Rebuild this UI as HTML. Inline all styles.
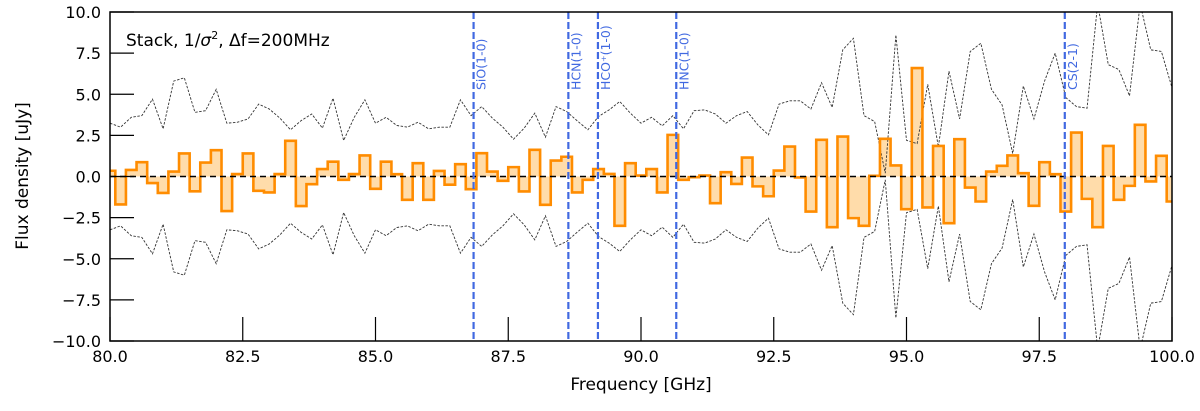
<!DOCTYPE html>
<html><head><meta charset="utf-8"><style>
body{margin:0;background:#fff;}
svg text{font-family:"DejaVu Sans","Liberation Sans",sans-serif;}
</style></head><body>
<svg id="chart" width="1200" height="406" viewBox="0 0 1200 406" xmlns="http://www.w3.org/2000/svg">
<defs><clipPath id="plotclip"><rect x="110" y="12" width="1062" height="329"/></clipPath></defs>
<g id="plot" clip-path="url(#plotclip)"></g>
<g id="axes"></g>
</svg>
<script>
const freqStart = 80.0, freqStep = 0.2;
const flux = [0.35,-1.7,0.4,0.87,-0.4,-1.0,0.3,1.4,-0.9,0.85,1.6,-2.1,0.15,1.4,-0.87,-0.97,0.15,2.17,-1.8,-0.47,0.45,0.9,-0.2,0.15,1.28,-0.75,
0.9,0.14,-1.42,0.81,-1.42,0.34,-0.5,0.75,-0.77,1.42,0.3,-0.26,0.57,-0.91,1.62,-1.72,0.97,1.2,-0.97,-0.2,0.45,0.16,-3.0,0.81,0.06,0.45,
-0.97,2.53,-0.2,-0.04,0.06,-1.62,0.26,-0.45,1.15,-0.6,-1.2,0.36,1.82,-0.06,-2.13,2.23,-3.08,2.43,-2.53,-3.0,0.04,2.29,0.67,-1.99,
6.59,-1.88,1.86,-2.84,2.27,-0.67,-1.52,0.3,0.65,1.28,0.2,-1.78,0.87,0.14,-2.13,2.67,-1.36,-3.08,1.86,-1.42,-0.57,3.14,-0.3,1.26,-1.52];
const sigma = [3.24,3.0,3.6,3.7,4.7,2.9,5.8,6.0,3.9,4.0,5.3,3.24,3.3,3.5,4.4,4.1,3.55,2.84,3.4,3.8,2.94,4.76,2.19,3.6,4.66,3.24,
3.6,3.1,3.0,3.3,2.9,3.0,3.0,4.66,3.7,4.25,3.55,3.0,2.27,2.94,3.85,2.39,4.25,3.95,3.38,2.84,3.65,4.05,4.56,3.85,3.24,3.6,
3.08,3.7,2.9,4.0,4.05,3.8,3.24,3.7,3.95,3.14,2.53,4.4,4.6,4.6,4.1,5.7,4.2,7.7,8.4,3.7,3.34,0.2,8.6,2.2,
2.0,5.6,1.8,6.4,3.5,7.6,8.1,5.3,4.35,1.4,5.5,3.5,5.8,7.5,4.8,4.25,4.15,10.5,6.8,6.5,4.9,10.5,7.7,7.6,5.4];
const lineNames = ["SiO(1-0)","HCN(1-0)","HCO\u207A(1-0)","HNC(1-0)","CS(2-1)"];
const lineFreqs = [86.847,88.632,89.189,90.664,97.981];
const xTicks = [80,82.5,85,87.5,90,92.5,95,97.5,100];
const xTickLabels = ["80.0","82.5","85.0","87.5","90.0","92.5","95.0","97.5","100.0"];
const yTicks = [-10,-7.5,-5,-2.5,0,2.5,5,7.5,10];
const yTickLabels = ["\u221210.0","\u22127.5","\u22125.0","\u22122.5","0.0","2.5","5.0","7.5","10.0"];

const X0=110,X1=1172,Y0=341,Y1=12;
const xs = f => X0 + (f-80)/20*(X1-X0);
const ys = v => Y0 - (v+10)/20*(Y0-Y1);
const NS="http://www.w3.org/2000/svg";
function mk(tag, attrs, parent){const e=document.createElementNS(NS,tag);for(const k in attrs)e.setAttribute(k,attrs[k]);parent.appendChild(e);return e;}
const plot=document.getElementById('plot'), axes=document.getElementById('axes');

let fillD="", stepD="";
flux.forEach((v,i)=>{
  const c=freqStart+i*freqStep;
  const a=xs(c-freqStep/2), b=xs(c+freqStep/2);
  fillD+=`M${a},${ys(0)}L${a},${ys(v)}L${b},${ys(v)}L${b},${ys(0)}Z`;
  stepD+=(i===0?`M${a},${ys(v)}`:`L${a},${ys(v)}`)+`L${b},${ys(v)}`;
});
const fill=mk('path',{d:fillD,fill:'#ffdcaa',stroke:'none'},plot);


let up="",lo="";
sigma.forEach((s,i)=>{const c=freqStart+i*freqStep;up+=(i?'L':'M')+xs(c)+','+ys(s);lo+=(i?'L':'M')+xs(c)+','+ys(-s);});
const u=mk('path',{d:up,fill:'none',stroke:'#333','stroke-width':0.9,'stroke-dasharray':'2.5,1.5'},plot);


const l=mk('path',{d:lo,fill:'none',stroke:'#333','stroke-width':0.9,'stroke-dasharray':'2.5,1.5'},plot);


const step=mk('path',{d:stepD,fill:'none',stroke:'#ff8c00','stroke-width':2.6,'stroke-linejoin':'miter'},plot);


const zl=mk('line',{x1:X0,x2:X1,y1:ys(0),y2:ys(0),stroke:'#000','stroke-width':1.5,'stroke-dasharray':'6,4'},plot);


lineFreqs.forEach((f,i)=>{
  const x=xs(f);
  const ln=mk('line',{x1:x,x2:x,y1:Y1,y2:Y0,stroke:'#4169e1','stroke-width':2.2,'stroke-dasharray':'7,3'},plot);
  
  
  const t=mk('text',{x:0,y:0,transform:`translate(${x+12},90) rotate(-90)`,'text-anchor':'start','font-size':12.5,fill:'#4169e1'},plot);
  t.textContent=lineNames[i];
  
  
});
xTicks.forEach((f,i)=>{
  const x=xs(f);
  const tk=mk('line',{x1:x,x2:x,y1:Y0,y2:Y0-24,stroke:'#000','stroke-width':1.2},axes);
  
  
  const t=mk('text',{x:x,y:362,'text-anchor':'middle','font-size':16,fill:'#000'},axes);
  t.textContent=xTickLabels[i];
  
  
});
yTicks.forEach((v,i)=>{
  const y=ys(v);
  const tk=mk('line',{x1:X0,x2:X0+24,y1:y,y2:y,stroke:'#000','stroke-width':1.2},axes);
  
  
  const t=mk('text',{x:101,y:y+6,'text-anchor':'end','font-size':16,fill:'#000'},axes);
  t.textContent=yTickLabels[i];
  
  
});
const fr=mk('rect',{x:X0,y:Y1,width:X1-X0,height:Y0-Y1,fill:'none',stroke:'#000','stroke-width':1.5},axes);


</script>
<svg style="position:absolute;left:0;top:0" width="1200" height="406">
<text x="641" y="390" text-anchor="middle" font-size="17" font-family="DejaVu Sans, sans-serif">Frequency [GHz]</text>
<text transform="translate(28,176) rotate(-90)" text-anchor="middle" font-size="17" font-family="DejaVu Sans, sans-serif">Flux density [uJy]</text>
<text x="126" y="46" font-size="17" font-family="DejaVu Sans, sans-serif">Stack, 1/<tspan font-style="italic">σ</tspan><tspan font-size="11" dy="-7">2</tspan><tspan dy="7">, Δf=200MHz</tspan></text>
</svg>
</body></html>
